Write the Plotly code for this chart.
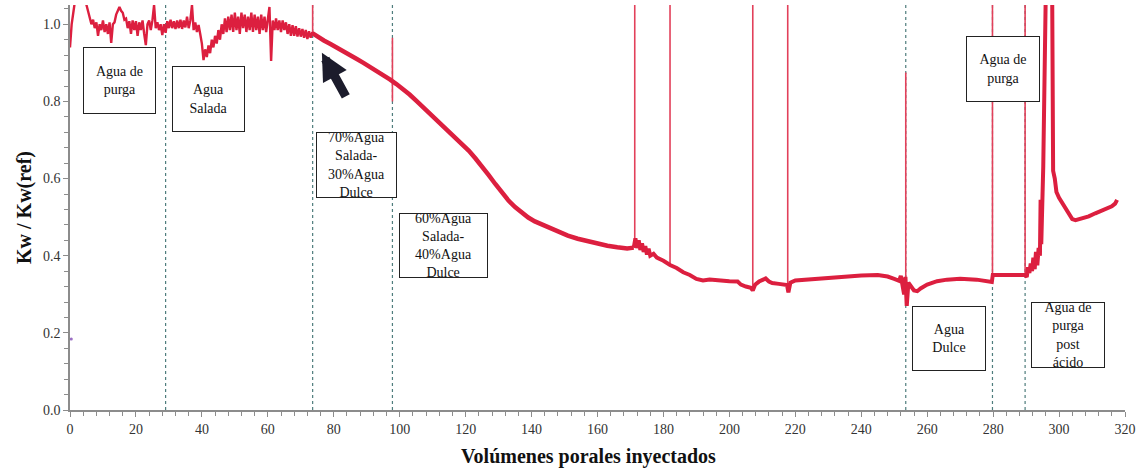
import numpy as np
import plotly.graph_objects as go

# ---- permeability ratio, noisy early stages (x every 0.5 PV, 0 .. 73.5) ----
early_x = np.arange(0, 74, 0.5)
early_y = [
    0.94, 1.0, 1.03, 1.06, 1.06, 1.06, 1.06, 1.06, 1.06, 1.06,
    1.05, 1.035, 1.02, 1.0, 1.012, 0.99, 1.005, 0.97, 1.0, 0.985,
    1.01, 0.98, 1.0, 0.975, 1.005, 0.952, 1.0, 1.005, 1.025, 1.035,
    1.045, 1.035, 1.03, 1.012, 1.015, 0.99, 1.008, 0.975, 1.01, 0.985,
    1.008, 0.97, 1.005, 0.985, 1.01, 0.975, 0.946, 1.0, 1.01, 0.985,
    1.01, 1.05, 0.99, 1.005, 0.985, 1.0, 0.972, 1.0, 0.978, 1.008,
    0.99, 1.012, 0.99, 1.008, 0.988, 1.01, 0.99, 1.012, 0.988, 1.01,
    0.992, 1.02, 0.99, 1.01, 1.05, 0.985, 1.005, 0.98, 0.998, 0.975,
    0.95, 0.907, 0.935, 0.915, 0.945, 0.925, 0.96, 0.94, 0.97, 0.95,
    0.985, 0.96, 1.0, 0.975, 1.015, 0.98, 1.02, 0.985, 1.025, 0.98,
    1.03, 0.985, 1.02, 0.975, 1.03, 0.99, 1.025, 0.98, 1.02, 0.985,
    1.03, 0.98, 1.025, 0.985, 1.02, 0.975, 1.025, 0.985, 1.02, 0.98,
    1.015, 1.045, 0.905, 1.01, 0.985, 1.015, 0.985, 1.01, 0.98, 1.01,
    0.985, 1.005, 0.975, 1.0, 0.97, 0.998, 0.97, 0.995, 0.968, 0.99,
    0.968, 0.988, 0.965, 0.985, 0.962, 0.982, 0.965, 0.98,
]

# ---- permeability ratio, mixed-brine decline ----
decline_x = [
    73.5, 75, 77, 79, 81, 83, 85, 87, 89, 91, 93, 95, 97, 99, 101, 103, 105,
    107, 109, 111, 113, 115, 117, 119, 121, 123, 125, 127, 129, 131, 133, 135,
    137, 139, 141, 143, 145, 148, 151, 154, 157, 160, 163, 166, 169, 171,
]
decline_y = [
    0.977, 0.968, 0.958, 0.949, 0.94, 0.929, 0.919, 0.91, 0.9, 0.89, 0.88,
    0.869, 0.857, 0.845, 0.832, 0.818, 0.802, 0.786, 0.77, 0.755, 0.739,
    0.723, 0.707, 0.69, 0.672, 0.652, 0.632, 0.609, 0.586, 0.563, 0.543,
    0.526, 0.512, 0.499, 0.489, 0.481, 0.473, 0.462, 0.452, 0.444, 0.437,
    0.431, 0.426, 0.422, 0.419, 0.421,
]

# ---- permeability ratio, fresh water / post-acid stages ----
late_x = [
    171, 171.5, 172, 172.5, 173, 173.5, 174, 174.5, 175, 175.5, 176, 177, 178,
    180, 182, 184, 186, 188, 190, 192, 194, 196, 198, 200, 202.5, 203.5, 205,
    206.5, 207.1, 207.8, 209, 210, 211, 212, 213, 215, 217.5, 217.9, 218.5, 220,
    223, 226, 230, 235, 240, 245, 248, 250, 251.5, 252, 252.5, 253, 253.4,
    253.8, 254.3, 255, 256, 257, 258, 260, 263, 266, 270, 275, 279.6, 279.9,
    285, 289.7, 290.2, 290.6, 291, 291.4, 291.8, 292.2, 292.6, 293, 293.4,
    293.8, 294.2, 294.4, 294.6, 295.2, 296.0, 296.6, 297.4, 297.9, 298.2, 298.7,
    299.2, 300, 301, 302, 303, 304, 305, 306, 307.5, 309, 311, 313, 315, 316,
    317, 317.6,
]
late_y = [
    0.421, 0.445, 0.42, 0.44, 0.415, 0.432, 0.41, 0.425, 0.403, 0.418, 0.4,
    0.405, 0.395, 0.387, 0.376, 0.368, 0.357, 0.35, 0.34, 0.336, 0.338, 0.336,
    0.335, 0.334, 0.333, 0.325, 0.32, 0.317, 0.31, 0.325, 0.333, 0.338, 0.341,
    0.333, 0.329, 0.327, 0.324, 0.305, 0.33, 0.336, 0.338, 0.34, 0.342, 0.346,
    0.349, 0.35, 0.346, 0.34, 0.335, 0.348, 0.32, 0.3, 0.345, 0.27, 0.33,
    0.322, 0.31, 0.308, 0.315, 0.325, 0.334, 0.338, 0.34, 0.338, 0.332, 0.35,
    0.35, 0.35, 0.345, 0.37, 0.355, 0.38, 0.36, 0.395, 0.365, 0.41, 0.375,
    0.42, 0.4, 0.545, 0.43, 0.63, 1.1, 1.4, 1.4, 1.1, 0.62, 0.6, 0.565, 0.55,
    0.535, 0.522, 0.505, 0.495, 0.492, 0.494, 0.497, 0.502, 0.51, 0.518,
    0.524, 0.528, 0.535, 0.545,
]

# ---- pressure transients (valve switches) ----
spike_x = [73.6, 97.8, 171.3, 182.0, 207.1, 217.7, 253.5, 279.8, 289.7]
spike_lo = [0.975, 0.80, 0.42, 0.376, 0.31, 0.305, 0.27, 0.332, 0.35]
spike_hi = [1.2, 0.965, 1.2, 1.2, 1.2, 1.2, 0.875, 1.2, 1.2]

# ---- stage boundaries (PV) ----
stage_bounds = [29, 73.6, 97.8, 253.5, 279.8, 289.7]

# ---- stage labels ----
stage_labels = [
    "Agua de<br>purga",
    "Agua<br>Salada",
    "70%Agua<br>Salada-<br>30%Agua<br>Dulce",
    "60%Agua<br>Salada-<br>40%Agua<br>Dulce",
    "Agua<br>Dulce",
    "Agua de<br>purga<br>post<br>ácido",
    "Agua de<br>purga",
]

# label box placement (data coords) and size (px)
label_pos = [(14.9, 0.854), (41.9, 0.806), (87.0, 0.636), (113.2, 0.4265),
             (266.6, 0.185), (302.7, 0.194), (283.0, 0.884)]
label_size = [(71, 65), (71, 64), (79, 64), (87, 63), (72, 63), (72, 64), (72, 64)]

RED = "#DC1F3F"
SERIF = "Liberation Serif, Times New Roman, serif"
AXIS = "#8c8c8c"

fig = go.Figure()

# stage boundary lines
for xb in stage_bounds:
    fig.add_shape(type="line", xref="x", yref="paper", x0=xb, x1=xb, y0=0, y1=1,
                  line=dict(color="#4f7d7d", width=1.2, dash="3px,3px"), layer="below")

# transient spikes
sx, sy = [], []
for x, lo, hi in zip(spike_x, spike_lo, spike_hi):
    sx += [x, x, None]
    sy += [lo, hi, None]
fig.add_trace(go.Scatter(x=sx, y=sy, mode="lines",
                         line=dict(color="#e2405a", width=1.6),
                         hoverinfo="skip", showlegend=False))

# main curve, drawn per stage group
fig.add_trace(go.Scatter(x=early_x, y=early_y, mode="lines",
                         line=dict(color=RED, width=2.4), showlegend=False))
fig.add_trace(go.Scatter(x=decline_x, y=decline_y, mode="lines",
                         line=dict(color=RED, width=4.5), showlegend=False))
fig.add_trace(go.Scatter(x=late_x, y=late_y, mode="lines",
                         line=dict(color=RED, width=4), showlegend=False))

# stray reference point
fig.add_trace(go.Scatter(x=[0.4], y=[0.184], mode="markers",
                         marker=dict(color="#9b6fc4", size=3),
                         showlegend=False, hoverinfo="skip"))

for text, (lx, ly), (w, h) in zip(stage_labels, label_pos, label_size):
    fig.add_annotation(x=lx, y=ly, xref="x", yref="y", text=text, showarrow=False,
                       width=w, height=h, bgcolor="white", bordercolor="#222",
                       borderwidth=1, borderpad=0,
                       font=dict(family=SERIF, size=14, color="#111"))

# arrow pointing at the onset of the decline
fig.add_annotation(x=76.4, y=0.926, ax=83.9, ay=0.809, xref="x", yref="y",
                   axref="x", ayref="y", text="", showarrow=True,
                   arrowhead=2, arrowsize=0.6, arrowwidth=9, arrowcolor="#1c1c2c")

# x-axis title
fig.add_annotation(x=0.491, y=-0.116, xref="paper", yref="paper",
                   text="<b>Volúmenes porales inyectados</b>", showarrow=False,
                   xanchor="center", yanchor="middle",
                   font=dict(family=SERIF, size=20, color="#111"))

fig.update_layout(
    width=1141, height=469,
    margin=dict(l=70, r=16, t=5, b=59),
    plot_bgcolor="white", paper_bgcolor="white",
    font=dict(family=SERIF, size=14, color="#333"),
    xaxis=dict(range=[0, 320], dtick=20, showgrid=False, zeroline=False,
               showline=True, linecolor=AXIS, linewidth=1.5,
               ticks="outside", ticklen=5, tickcolor=AXIS, tickwidth=1.2,
               minor=dict(dtick=4, ticks="outside", ticklen=4, tickcolor=AXIS, tickwidth=1),
               tickfont=dict(family=SERIF, size=14, color="#333")),
    xaxis2=dict(range=[0, 320], overlaying="x", anchor="y", side="bottom",
                dtick=20, showgrid=False, zeroline=False, showline=False,
                ticks="inside", ticklen=5, tickcolor=AXIS, tickwidth=1.2,
                showticklabels=False),
    yaxis=dict(range=[0, 1.05], dtick=0.2, tickformat=".1f", showgrid=False,
               zeroline=False, showline=True, linecolor=AXIS, linewidth=1.5,
               ticks="outside", ticklen=5, tickcolor=AXIS, tickwidth=1.2,
               minor=dict(dtick=0.04, ticks="outside", ticklen=4, tickcolor=AXIS, tickwidth=1),
               tickfont=dict(family=SERIF, size=14, color="#333"),
               title=dict(text="<b>Kw / Kw(ref)</b>", standoff=6,
                          font=dict(family=SERIF, size=20, color="#111"))),
)

fig.write_html("out.html")
